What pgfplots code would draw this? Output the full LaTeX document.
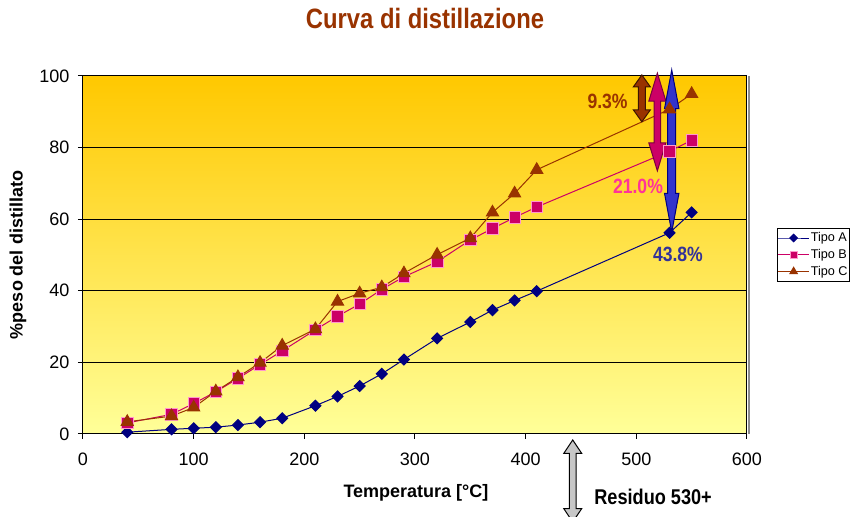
\documentclass[border=0pt]{standalone}
\usepackage{pgfplots}
\pgfplotsset{compat=1.18}
\usepackage{fontspec}
\setmainfont{Liberation Sans}
\newfontfamily\narrowfont[FakeStretch=0.85]{Liberation Sans}

\definecolor{titlebrown}{HTML}{993300}
\definecolor{serA}{HTML}{000080}
\definecolor{serB}{HTML}{CC0066}
\definecolor{serBedge}{HTML}{FF99CC}
\definecolor{serC}{HTML}{993300}
\definecolor{bgtop}{HTML}{FFC800}
\definecolor{bgbot}{HTML}{FFFF99}
\definecolor{labB}{HTML}{FF3399}
\definecolor{labA}{HTML}{333399}
\definecolor{arrA}{HTML}{3333CC}

% vertical double-headed block arrow in axis coordinates
% #1 x, #2 upper tip, #3 lower tip, #4 half shaft, #5 half head, #6 head length, #7 fill, #8 outline
\newcommand\blockarrow[8]{%
  \filldraw[fill=#7, draw=#8, line width=0.75pt, line join=miter]
    (axis cs:#1,#2) -- ([shift={(#5,-#6)}]axis cs:#1,#2) -- ([shift={(#4,-#6)}]axis cs:#1,#2)
    -- ([shift={(#4,#6)}]axis cs:#1,#3) -- ([shift={(#5,#6)}]axis cs:#1,#3) -- (axis cs:#1,#3)
    -- ([shift={(-#5,#6)}]axis cs:#1,#3) -- ([shift={(-#4,#6)}]axis cs:#1,#3)
    -- ([shift={(-#4,-#6)}]axis cs:#1,#2) -- ([shift={(-#5,-#6)}]axis cs:#1,#2) -- cycle;}

\begin{document}
\begin{tikzpicture}
\useasboundingbox (-62.25pt,-62.25pt) rectangle (576pt,325.5pt);
\begin{axis}[
  at={(0pt,0pt)}, anchor=south west,
  scale only axis, width=498pt, height=268.5pt,
  xmin=0, xmax=600, ymin=0, ymax=100,
  xtick={0,100,...,600}, ytick={0,20,...,100},
  ymajorgrids, major grid style={black, line width=0.75pt},
  axis line style={black, line width=0.75pt},
  tick style={black, line width=0.75pt},
  tick align=outside, major tick length=3.75pt,
  xtick pos=bottom, ytick pos=left,
  ticklabel style={font=\fontsize{13.5}{16}\selectfont},
  xticklabel style={yshift=-7pt},
  yticklabel style={xshift=-3pt},
  /pgf/number format/assume math mode=true,
  clip=false,
  axis background/.style={top color=bgtop, bottom color=bgbot},
  legend style={at={(1.045,0.575)}, anchor=north west, draw=black, fill=white,
    font=\fontsize{9.5}{11}\selectfont, inner xsep=0.5pt, inner ysep=1.5pt,
    row sep=1.2pt, nodes={inner xsep=1pt, inner ysep=1.5pt}},
  legend cell align=left,
  legend image code/.code={\draw[mark repeat=2, mark phase=2]
    plot coordinates {(0pt,0pt) (11.5pt,0pt) (23pt,0pt)};},
]
\addplot[serA, line width=0.75pt, mark=square*, mark size=2.9pt,
  mark options={rotate=45, fill=serA, draw=serA},
  legend image post style={mark size=2pt}] coordinates {
  (40,0.5) (80,1.3) (100,1.6) (120,1.9) (140,2.5) (160,3.3) (180,4.4)
  (210,7.9) (230,10.5) (250,13.4) (270,16.8) (290,20.8) (320,26.7)
  (350,31.3) (370,34.6) (390,37.3) (410,39.9) (530,56.2) (550,61.9)};
\addlegendentry{Tipo A}
\addplot[serB, line width=0.75pt, mark=square*, mark size=4.3pt,
  mark options={fill=serB, draw=serBedge, line width=0.5pt},
  legend image post style={mark size=2.5pt}] coordinates {
  (40,3.1) (80,5.5) (100,8.5) (120,11.8) (140,15.5) (160,19.4) (180,23.2)
  (210,29.1) (230,32.9) (250,36.3) (270,40.4) (290,43.9) (320,48.1)
  (350,54.2) (370,57.4) (390,60.5) (410,63.4) (530,79.0) (550,82.0)};
\addlegendentry{Tipo B}
\addplot[serC, line width=0.75pt, mark=triangle*, mark size=5.2pt,
  mark options={fill=serC, draw=serC},
  legend image post style={mark size=3.2pt}] coordinates {
  (40,3.4) (80,5.0) (100,7.4) (120,11.9) (140,15.9) (160,19.9) (180,24.7)
  (210,29.3) (230,37.0) (250,39.3) (270,41.0) (290,44.9) (320,50.1)
  (350,54.7) (370,61.9) (390,67.2) (410,73.8) (530,90.7) (550,95.0)};
\addlegendentry{Tipo C}

% residue arrows (100 minus distilled fraction at 530 C)
\blockarrow{505}{100.3}{87.2}{2.6pt}{6.4pt}{9pt}{serC}{black!60!serC}
\blockarrow{519}{100.8}{73.5}{2.4pt}{6.4pt}{21pt}{serB}{black!40!serB}
\blockarrow{532}{101.7}{56.4}{3pt}{5.4pt}{29pt}{arrA}{serA}

\node[text=titlebrown, font=\narrowfont\bfseries\fontsize{15.5}{18}\selectfont] at (axis cs:474,93) {9.3\%};
\node[text=labB, font=\narrowfont\bfseries\fontsize{15.5}{18}\selectfont] at (axis cs:501.5,69.3) {21.0\%};
\node[text=labA, font=\narrowfont\bfseries\fontsize{15.5}{18}\selectfont] at (axis cs:537.6,50.3) {43.8\%};

% shadow along the right edge of the plot area
\draw[black!45, line width=1.2pt] ([xshift=1.4pt]rel axis cs:1,0) -- ([xshift=1.4pt]rel axis cs:1,1);
\end{axis}

% title and axis titles
\node[text=titlebrown, font=\narrowfont\bfseries\fontsize{21}{24}\selectfont] at (256.5pt,312pt) {Curva di distillazione};
\node[rotate=90, font=\bfseries\fontsize{13.5}{16}\selectfont] at (-48.75pt,134.25pt) {\%peso del distillato};
\node[font=\bfseries\fontsize{13.5}{16}\selectfont] at (249.75pt,-44.25pt) {Temperatura [°C]};

% residue marker below the axis
\filldraw[fill=black!22, draw=black, line width=0.75pt, line join=miter]
  (367.3pt,-4.5pt) -- (374pt,-14.5pt) -- (369.9pt,-14.5pt) -- (369.9pt,-56pt)
  -- (374pt,-56pt) -- (367.3pt,-66pt) -- (360.6pt,-56pt) -- (364.7pt,-56pt)
  -- (364.7pt,-14.5pt) -- (360.6pt,-14.5pt) -- cycle;
\node[anchor=west, font=\narrowfont\bfseries\fontsize{16}{19}\selectfont] at (380pt,-47.25pt) {Residuo 530+};
\end{tikzpicture}
\end{document}
